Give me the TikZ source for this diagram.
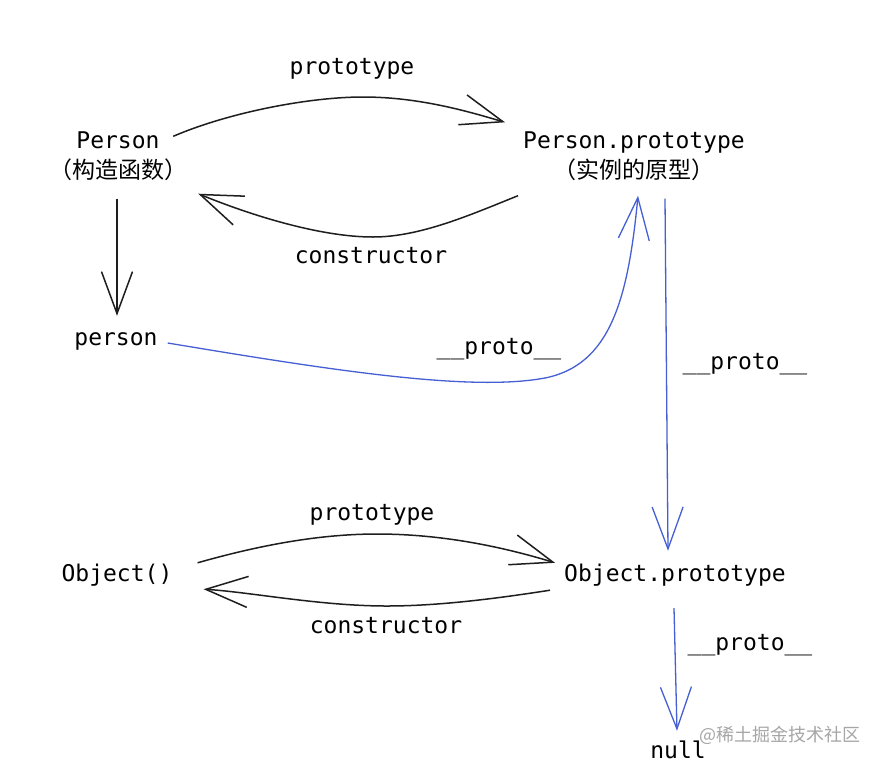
\documentclass[tikz,border=0pt]{standalone}
\usepackage{fontspec}
\setmainfont{DejaVu Sans}
\newfontfamily\codefont{DejaVu Sans Mono}
\newfontfamily\cjkfont{Noto Sans CJK SC}
\usetikzlibrary{arrows.meta}
\definecolor{protoblue}{RGB}{70,95,210}
\definecolor{inkblack}{RGB}{30,30,30}

\begin{document}
\begin{tikzpicture}[
    x=1pt, y=-1pt,
    obj/.style={font=\fontsize{23}{30}\selectfont\codefont,inner sep=0pt,text height=17pt,text depth=5pt},
    objtwo/.style={font=\fontsize{23}{30}\selectfont\codefont,inner sep=0pt,align=center},
    lbl/.style={obj},
    watermark/.style={font=\fontsize{18}{18}\selectfont\cjkfont,text=black!35,inner sep=0pt},
    arrow/.style={-{Straight Barb[length=42pt,width=31pt]},line width=1.5pt,inkblack},
    proto/.style={arrow,protoblue,line width=1.3pt}
  ]
    \fill[white] (0,0) rectangle (882,766);

    \node[objtwo] (person) at (118,156) {Person\\{\cjkfont （构造函数）}};
    \node[objtwo] (personproto) at (634,156) {Person.prototype\\{\cjkfont （实例的原型）}};
    \node[obj] (inst) at (116,339) {person};
    \node[obj] (object) at (117,575) {Object()};
    \node[obj] (objproto) at (675,575) {Object.prototype};
    \node[obj] (null) at (678,752) {null};

    \node[lbl] (protolbl) at (352,68) {prototype};
    \node[lbl] (ctorlbl) at (371,257) {constructor};
    \node[lbl] (instlbl) at (499,348) {\_\_proto\_\_};
    \node[lbl] (pplbl) at (745,363) {\_\_proto\_\_};
    \node[lbl] (objprotolbl) at (372,514) {prototype};
    \node[lbl] (objctorlbl) at (386,627) {constructor};
    \node[lbl] (nulllbl) at (750,644) {\_\_proto\_\_};
    \node[watermark] (wm) at (780,735) {@稀土掘金技术社区};

    % Person <-> Person.prototype
    \draw[arrow] ([shift={(-14,5)}]person.north east) .. controls (230,112) and (310,97) .. (363,97)
      .. controls (420,97) and (470,112) .. ([shift={(-18,-9)}]personproto.north west);
    \draw[arrow] ([shift={(-5,15)}]personproto.south west) .. controls (470,215) and (420,237) .. (373,237)
      .. controls (320,237) and (250,215) .. ([shift={(11,13)}]person.south east);
    \draw[arrow] ([shift={(-1,18)}]person.south) -- ([shift={(1,-12)}]inst.north);

    % __proto__ chain
    \draw[proto] ([shift={(10,4)}]inst.east) .. controls (330,370) and (470,392) .. (545,378)
      .. controls (610,365) and (628,300) .. ([shift={(4,15)}]personproto.south);
    \draw[proto] ([shift={(31,18)}]personproto.south) -- ([shift={(-7,-13)}]objproto.north);
    \draw[proto] ([shift={(-1,22)}]objproto.south) -- ([shift={(-1,-10)}]null.north);

    % Object() <-> Object.prototype
    \draw[arrow] ([shift={(25,-1)}]object.north east) .. controls (260,545) and (320,534) .. (377,534)
      .. controls (440,534) and (500,546) .. ([shift={(-9,-1)}]objproto.north west);
    \draw[arrow] ([shift={(-14,4)}]objproto.south west) .. controls (500,598) and (440,606) .. (387,606)
      .. controls (320,606) and (250,592) .. ([shift={(31,3)}]object.south east);
\end{tikzpicture}
\end{document}
